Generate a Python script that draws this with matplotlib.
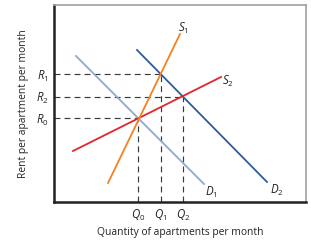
import matplotlib.pyplot as plt

plt.rcParams['font.family'] = ['Open Sans', 'DejaVu Sans']
plt.rcParams['mathtext.fontset'] = 'custom'
plt.rcParams['mathtext.it'] = 'Open Sans:italic'
plt.rcParams['mathtext.rm'] = 'Open Sans'

# curve endpoints (arbitrary units)
s1_x = [54, 126]
s1_y = [19, 168]
s2_x = [19, 167]
s2_y = [51, 125]
d1_x = [22, 150]
d1_y = [146, 18]
d2_x = [83, 213]
d2_y = [152, 20]

# equilibrium points: (Q0,R0), (Q1,R1), (Q2,R2)
eq_q = [84.3, 107, 129]
eq_r = [84, 127.7, 105.3]
q_labels = ["$Q_0$", "$Q_1$", "$Q_2$"]
r_labels = ["$R_0$", "$R_1$", "$R_2$"]

fig = plt.figure(figsize=(3.11, 2.43), dpi=100)
ax = fig.add_axes([54 / 311, 1 - 202 / 243, 252 / 311, 197 / 243])
ax.set_xlim(0, 252)
ax.set_ylim(0, 197)

for q, r in zip(eq_q, eq_r):
    ax.plot([0, q], [r, r], color="#3a3a3a", lw=0.85, dashes=(5, 3.5))
    ax.plot([q, q], [0, r], color="#3a3a3a", lw=0.85, dashes=(5, 3.5))

ax.plot(d1_x, d1_y, color="#8fa8d0", lw=1.3)
ax.plot(d2_x, d2_y, color="#2f5b9e", lw=1.3)
ax.plot(s2_x, s2_y, color="#e0262b", lw=1.3)
ax.plot(s1_x, s1_y, color="#f5821f", lw=1.3)

lab = dict(fontsize=8.3, color="#222222")
ax.text(129, 174, "$S_1$", ha="center", va="center", **lab)
ax.text(174, 121, "$S_2$", ha="center", va="center", **lab)
ax.text(157, 10, "$D_1$", ha="center", va="center", **lab)
ax.text(223, 12, "$D_2$", ha="center", va="center", **lab)

ax.set_xticks(eq_q)
ax.set_xticklabels(q_labels, fontsize=8.3, color="#222222")
ax.set_yticks(eq_r)
ax.set_yticklabels(r_labels, fontsize=8.3, color="#222222")
ax.tick_params(length=0, pad=4)

ax.set_xlabel("Quantity of apartments per month", fontsize=7.4, color="#222222", labelpad=3)
ax.set_ylabel("Rent per apartment per month", fontsize=7.4, color="#222222", labelpad=5)

for side in ["left", "bottom"]:
    ax.spines[side].set_linewidth(1.8)
    ax.spines[side].set_color("#222222")
for side in ["top", "right"]:
    ax.spines[side].set_linewidth(1.2)
    ax.spines[side].set_color("#a0a0a0")

fig.savefig("out.png", dpi=100)
